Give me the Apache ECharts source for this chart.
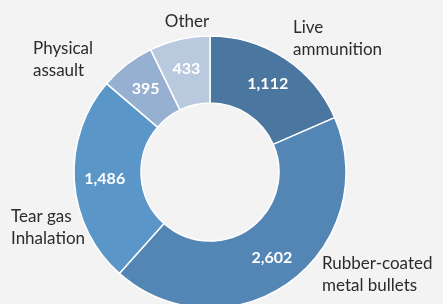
<!DOCTYPE html>
<html>
<head>
<meta charset="utf-8">
<script src="https://cdn.jsdelivr.net/npm/echarts@6/dist/echarts.min.js"></script>
<style>
  html, body { margin: 0; padding: 0; background: #f3f3f3; }
  #chart { width: 443px; height: 304px; }
</style>
</head>
<body>
<div id="chart"></div>
<script>
  // data
  var categories = ['Live\nammunition', 'Rubber-coated\nmetal bullets', 'Tear gas\nInhalation', 'Physical\nassault', 'Other'];
  var values = [1112, 2602, 1486, 395, 433];
  var colors = ['#4a76a0', '#5385b5', '#5b96c8', '#95b0d0', '#b9c9de'];

  // where the category names sit (outside the ring)
  var namePos = [
    { x: 293, y: 39, align: 'left' },
    { x: 322, y: 275, align: 'left' },
    { x: 11, y: 228, align: 'left' },
    { x: 33, y: 60, align: 'left' },
    { x: 187, y: 22, align: 'center' }
  ];

  var pieData = categories.map(function (c, i) {
    return { name: c, value: values[i], itemStyle: { color: colors[i] } };
  });

  var myChart = echarts.init(document.getElementById('chart'));
  myChart.setOption({
    backgroundColor: '#f3f3f3',
    animation: false,
    series: [{
      type: 'pie',
      center: [210, 172],
      radius: [69, 136],
      startAngle: 90,
      clockwise: true,
      itemStyle: { borderColor: '#ffffff', borderWidth: 1.5 },
      label: {
        show: true,
        position: 'inside',
        color: '#ffffff',
        fontFamily: 'Lato',
        fontWeight: 'bold',
        fontSize: 16,
        formatter: function (p) { return p.value.toLocaleString('en-US'); }
      },
      labelLine: { show: false },
      data: pieData
    }, {
      // transparent copy, only carries the category names
      type: 'pie',
      silent: true,
      center: [210, 172],
      radius: [69, 136],
      startAngle: 90,
      clockwise: true,
      itemStyle: { color: 'rgba(0,0,0,0)', borderWidth: 0 },
      label: {
        show: true,
        position: 'inside',
        color: '#2b2b2b',
        fontFamily: 'Lato',
        fontSize: 17,
        lineHeight: 22,
        formatter: '{b}'
      },
      labelLine: { show: false },
      labelLayout: function (p) {
        var pos = namePos[p.dataIndex];
        return { x: pos.x, y: pos.y, align: pos.align, verticalAlign: 'middle' };
      },
      data: categories.map(function (c, i) { return { name: c, value: values[i] }; })
    }]
  });
</script>
</body>
</html>
